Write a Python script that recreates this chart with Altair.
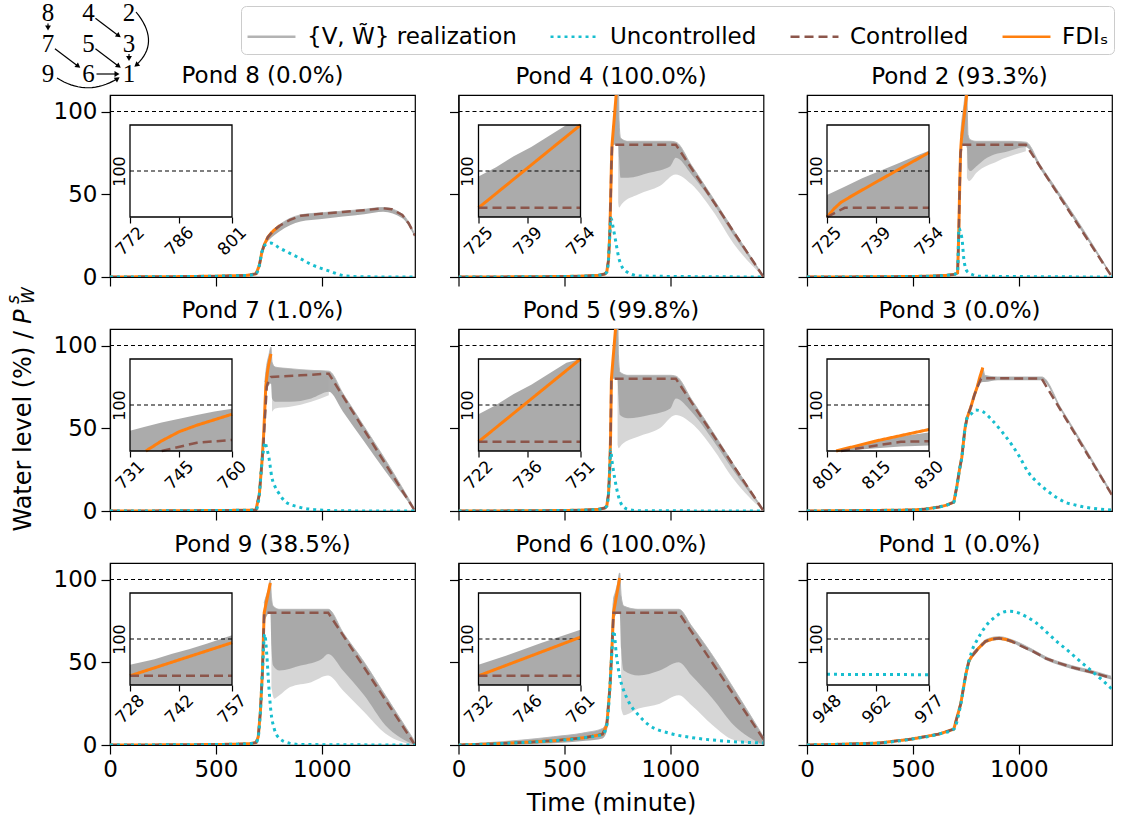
import math
import altair as alt
import pandas as pd

# ---------------- series / legend ----------------
SERIES = ["{V, W\u0303} realization", "Uncontrolled", "Controlled", "FDI\u209b"]
COLORS = ["#b3b3b3", "#17becf", "#8c564b", "#ff7f0e"]
DASHES = [[1, 0], [3, 4], [9, 5], [1, 0]]

PANEL_KEYS = ["8", "4", "2", "7", "5", "3", "9", "6", "1"]
PANEL_TITLES = ["Pond 8 (0.0%)", "Pond 4 (100.0%)", "Pond 2 (93.3%)",
                "Pond 7 (1.0%)", "Pond 5 (99.8%)", "Pond 3 (0.0%)",
                "Pond 9 (38.5%)", "Pond 6 (100.0%)", "Pond 1 (0.0%)"]
X_TICKS = [0, 500, 1000]
Y_TICKS = [0, 50, 100]
X_DOMAIN = [0, 1440]
Y_DOMAIN = [0, 110]
INSET_Y = [75, 125]

# ---------------- Pond 8 ----------------
P8_WIN = [772, 786, 801]
P8_T_UNC = [0, 300, 500, 650, 690, 705, 717, 730, 745, 760, 800, 850, 892, 950, 1033, 1113, 1200, 1440]
P8_V_UNC = [0, 0.2, 0.5, 1, 2, 7, 15, 19, 20.3, 20.5, 17.5, 14.3, 11.6, 7.6, 3.7, 0.6, 0.1, 0]
P8_T_CTL = [0, 300, 500, 650, 690, 705, 717, 730, 745, 764, 772, 801, 850, 900, 1000, 1100, 1200, 1290, 1330, 1380, 1410, 1440]
P8_V_CTL = [0, 0.2, 0.5, 1, 2, 7, 15, 20, 24, 27, 28, 31, 34.5, 37, 38.3, 39.3, 40.4, 41.5, 41, 37.5, 32.5, 25]
P8_T_FDI = [0, 300, 500, 650, 690, 705, 717, 730, 745, 764, 772, 801]
P8_V_FDI = [0, 0.2, 0.5, 1, 2, 7, 15, 20, 24, 27, 28, 31]
P8_T_BAND = [730, 764, 800, 900, 1000, 1100, 1200, 1290, 1380, 1440]
P8_LO_BAND = [19.5, 24, 27.5, 33.5, 35, 36.5, 38, 39.5, 35.5, 24]
P8_HI_BAND = [20.5, 27.5, 31.5, 37.5, 38.8, 39.8, 40.9, 42, 38, 25.5]

# ---------------- Pond 4 ----------------
P4_WIN = [725, 739, 754]
P4_T_UNC = [0, 300, 500, 600, 660, 690, 700, 708, 714, 720, 730, 742, 757, 775, 790, 820, 851, 1440]
P4_V_UNC = [0, 0.1, 0.3, 0.6, 1, 1.8, 3, 10, 25, 35.5, 30, 21.7, 11.4, 5.5, 3.6, 1.5, 0.6, 0]
P4_T_CTL = [0, 300, 500, 600, 660, 690, 700, 708, 714, 718, 722, 725, 754, 1026, 1440]
P4_V_CTL = [0, 0.1, 0.3, 0.6, 1, 1.8, 3, 10, 25, 45, 68, 80, 80, 80, 0]
P4_T_FDI = [0, 300, 500, 600, 660, 690, 700, 708, 714, 718, 722, 725, 754]
P4_V_FDI = [0, 0.1, 0.3, 0.6, 1, 1.8, 3, 10, 25, 45, 68, 80, 125]
P4_T_BAND = [725, 735, 745, 754, 758, 765, 800, 900, 1000, 1026, 1100, 1200, 1300, 1440]
P4_LO_BAND = [79, 80, 80, 80, 72, 60, 60, 63, 67, 72, 62, 45, 25, 0]
P4_HI_BAND = [82, 97, 112, 125, 95, 84, 82, 82, 82, 81.5, 67.5, 48, 28, 0.5]
P4_T_FRINGE = [754, 758, 770, 850, 950, 1026, 1100, 1200, 1300, 1440]
P4_LO_FRINGE = [45, 42, 44, 50, 55, 62, 56, 40, 20, 0]
P4_HI_FRINGE = [80, 80, 80, 80, 80, 80, 66, 47, 27, 0.5]
P4_T_INSET = [725, 730, 735, 740, 745, 750, 754]
P4_LO_INSET = [75, 75, 75, 75, 75, 75, 75]
P4_HI_INSET = [97, 102, 108, 113, 119, 125, 130]

# ---------------- Pond 2 ----------------
P2_WIN = [725, 739, 754]
P2_T_UNC = [0, 300, 500, 600, 660, 690, 700, 711, 714, 717, 725, 733, 740, 755, 780, 811, 1440]
P2_V_UNC = [0, 0.1, 0.3, 0.6, 1, 1.5, 1.8, 2.5, 15, 29.5, 27, 21.7, 11.4, 3.6, 1.5, 0.5, 0]
P2_T_CTL = [0, 300, 500, 600, 660, 690, 700, 711, 714, 717, 721, 725, 730, 754, 1033, 1440]
P2_V_CTL = [0, 0.1, 0.3, 0.6, 1, 1.5, 1.8, 2.5, 15, 29.5, 55, 75, 80, 80, 80, 0]
P2_T_FDI = [0, 300, 500, 600, 660, 690, 700, 711, 714, 717, 721, 725, 727, 729, 733, 739, 746, 754]
P2_V_FDI = [0, 0.1, 0.3, 0.6, 1, 1.5, 1.8, 2.5, 15, 29.5, 55, 75, 79.5, 83, 87.5, 94, 101.5, 110]
P2_T_BAND = [725, 730, 740, 748, 755, 760, 770, 800, 850, 950, 1033, 1100, 1200, 1300, 1440]
P2_LO_BAND = [75, 78, 80, 80, 78, 66, 64, 67, 72, 76, 78.5, 65.5, 46.5, 27, 0]
P2_HI_BAND = [85, 93, 103, 110, 108, 86, 83, 82, 82, 82, 81.5, 68, 49, 29.5, 0.5]
P2_T_FRINGE = [755, 765, 800, 900, 1033]
P2_LO_FRINGE = [60, 58, 63, 70, 76]
P2_HI_FRINGE = [80, 80, 80, 80, 80]
P2_T_INSET = [725, 730, 735, 740, 745, 750, 754]
P2_LO_INSET = [75, 75, 75, 75, 75, 75, 75]
P2_HI_INSET = [87, 91.5, 96, 100, 104, 108, 111]

# ---------------- Pond 7 ----------------
P7_WIN = [731, 745, 760]
P7_T_UNC = [0, 300, 500, 600, 660, 689, 705, 717, 725, 731, 740, 750, 764, 780, 797, 830, 892, 986, 1100, 1440]
P7_V_UNC = [0, 0.1, 0.3, 0.4, 0.5, 0.6, 10, 29, 37, 41.6, 38, 32.5, 20.5, 14.5, 10.8, 5.4, 2.4, 0.6, 0.1, 0]
P7_T_CTL = [0, 300, 500, 600, 660, 689, 705, 717, 725, 731, 740, 750, 760, 900, 1033, 1440]
P7_V_CTL = [0, 0.1, 0.3, 0.4, 0.5, 0.6, 10, 29, 42, 55, 75, 79.5, 81, 82, 83, 0]
P7_T_FDI = [0, 300, 500, 600, 660, 689, 705, 717, 725, 731, 735.5, 740, 745, 750, 755, 760]
P7_V_FDI = [0, 0.1, 0.3, 0.4, 0.5, 0.6, 10, 29, 45, 62, 75, 80.5, 85.5, 89, 92, 95]
P7_T_BAND = [731, 740, 750, 760, 765, 780, 850, 950, 1033, 1100, 1200, 1300, 1440]
P7_LO_BAND = [58, 74, 76, 77, 68, 66, 66, 68, 72, 60, 42, 24, 0]
P7_HI_BAND = [78, 88, 94, 99, 90, 87, 86, 85, 84.5, 71, 51, 31, 1]
P7_T_FRINGE = [765, 780, 850, 950, 1033]
P7_LO_FRINGE = [60, 62, 63, 66, 70]
P7_HI_FRINGE = [82, 82, 82, 82, 82]
P7_T_INSET = [731, 735, 740, 745, 750, 755, 760]
P7_LO_INSET = [75, 75, 75, 75, 75, 75, 75]
P7_HI_INSET = [86, 88, 90.5, 92.5, 94.5, 96.5, 98]

# ---------------- Pond 5 ----------------
P5_WIN = [722, 736, 751]
P5_T_UNC = [0, 300, 500, 600, 660, 690, 700, 708, 714, 718, 725, 740, 755, 775, 800, 850, 1440]
P5_V_UNC = [0, 0.1, 0.3, 0.6, 1, 1.8, 3, 10, 25, 37, 30, 18, 9, 3, 1, 0.2, 0]
P5_T_CTL = [0, 300, 500, 600, 660, 690, 700, 708, 714, 718, 721, 722, 751, 1026, 1440]
P5_V_CTL = [0, 0.1, 0.3, 0.6, 1, 1.8, 3, 10, 25, 45, 72, 80, 80, 80, 0]
P5_T_FDI = [0, 300, 500, 600, 660, 690, 700, 708, 714, 718, 721, 722, 751]
P5_V_FDI = [0, 0.1, 0.3, 0.6, 1, 1.8, 3, 10, 25, 45, 72, 80, 125]
P5_T_BAND = [722, 732, 742, 751, 755, 762, 800, 900, 1000, 1026, 1100, 1200, 1300, 1440]
P5_LO_BAND = [79, 80, 80, 80, 70, 58, 56, 58, 62, 68, 60, 43, 24, 0]
P5_HI_BAND = [82, 97, 112, 125, 95, 84, 82, 82, 82, 81.5, 67.5, 48, 28, 0.5]
P5_T_FRINGE = [751, 756, 770, 850, 950, 1026, 1100, 1200, 1300, 1440]
P5_LO_FRINGE = [40, 38, 40, 45, 50, 58, 53, 38, 19, 0]
P5_HI_FRINGE = [80, 80, 80, 80, 80, 80, 66, 47, 27, 0.5]
P5_T_INSET = [722, 727, 732, 737, 742, 747, 751]
P5_LO_INSET = [75, 75, 75, 75, 75, 75, 75]
P5_HI_INSET = [95, 100, 106, 111, 117, 123, 128]

# ---------------- Pond 3 ----------------
P3_WIN = [801, 815, 830]
P3_T_UNC = [0, 300, 500, 560, 623, 660, 693, 707, 720, 731, 745, 755, 778, 797, 830, 873, 920, 967, 1000,
            1047, 1090, 1127, 1180, 1221, 1270, 1316, 1380, 1440]
P3_V_UNC = [0, 0.3, 0.6, 1.2, 2.4, 3.6, 5.4, 14.5, 25, 32.5, 49, 56, 59, 61, 60, 55, 48, 40, 33.5,
            23, 17, 13, 8, 5.2, 3.5, 2.2, 1.2, 0.6]
P3_T_CTL = [0, 300, 500, 560, 623, 660, 693, 707, 720, 731, 745, 755, 773, 790, 805, 815, 822, 830, 1108, 1440]
P3_V_CTL = [0, 0.3, 0.6, 1.2, 2.4, 3.6, 5.4, 14.5, 25, 32.5, 49, 56, 62.6, 70, 75, 78, 80, 80.3, 80, 9.6]
P3_T_FDI = [0, 300, 500, 560, 623, 660, 693, 707, 720, 731, 745, 755, 773, 790, 801, 803.6, 815, 830]
P3_V_FDI = [0, 0.3, 0.6, 1.2, 2.4, 3.6, 5.4, 14.5, 25, 32.5, 49, 56, 62.6, 70, 74, 75, 80.5, 86.7]
P3_T_BAND = [790, 805, 815, 830, 840, 900, 1000, 1108, 1200, 1300, 1440]
P3_LO_BAND = [69, 74, 77, 78, 78, 79, 79, 79, 60.5, 39, 8.8]
P3_HI_BAND = [71, 76, 81, 86, 82, 81, 81, 81, 62, 41, 10.5]
P3_T_INSET = [805, 815, 822, 830]
P3_LO_INSET = [75, 76.5, 77.5, 78]
P3_HI_INSET = [76, 80.5, 83, 85]

# ---------------- Pond 9 ----------------
P9_WIN = [728, 742, 757]
P9_T_UNC = [0, 300, 500, 600, 660, 690, 700, 710, 720, 730, 740, 750, 760, 775, 800, 850, 900, 1440]
P9_V_UNC = [0, 0.1, 0.3, 0.5, 0.8, 1.5, 5, 20, 45, 67, 55, 35, 20, 10, 4, 1, 0.3, 0]
P9_T_CTL = [0, 300, 500, 600, 660, 690, 700, 710, 720, 725, 728, 757, 1030, 1440]
P9_V_CTL = [0, 0.1, 0.3, 0.5, 0.8, 1.5, 5, 20, 45, 68, 80, 80, 80, 0]
P9_T_FDI = [0, 300, 500, 600, 660, 690, 700, 710, 720, 725, 728, 757]
P9_V_FDI = [0, 0.1, 0.3, 0.5, 0.8, 1.5, 5, 20, 45, 68, 80, 98]
P9_T_BAND = [728, 740, 750, 757, 762, 770, 800, 900, 1000, 1030, 1100, 1200, 1300, 1440]
P9_LO_BAND = [75, 78, 80, 80, 60, 48, 45, 48, 52, 55, 45, 30, 12, 0]
P9_HI_BAND = [86, 91, 95, 100, 90, 84, 82, 82, 82, 82, 68, 50, 30, 2]
P9_T_FRINGE = [762, 775, 800, 850, 950, 1030, 1100, 1200, 1300, 1440]
P9_LO_FRINGE = [35, 28, 30, 35, 38, 42, 33, 20, 7, 0]
P9_HI_FRINGE = [80, 80, 80, 80, 80, 80, 66, 48, 29, 1]
P9_T_INSET = [728, 735, 740, 745, 750, 757]
P9_LO_INSET = [75, 75, 75, 75, 75, 75]
P9_HI_INSET = [86, 89, 92, 94.5, 97.5, 102]

# ---------------- Pond 6 ----------------
P6_WIN = [732, 746, 761]
P6_T_UNC = [0, 150, 300, 450, 600, 680, 700, 715, 725, 733, 745, 760, 780, 800, 850, 900, 1000, 1100, 1200, 1300, 1440]
P6_V_UNC = [0, 0.6, 1.5, 2.6, 4.5, 6.5, 12, 35, 58, 69, 55, 42, 33, 27, 18, 12, 7, 4.5, 3, 2, 1.2]
P6_T_CTL = [0, 150, 300, 450, 600, 680, 700, 715, 725, 732, 761, 1040, 1440]
P6_V_CTL = [0, 0.6, 1.5, 2.6, 4.5, 6.5, 12, 35, 60, 80, 80, 80, 3.5]
P6_T_FDI = [0, 150, 300, 450, 600, 680, 700, 715, 725, 732, 761]
P6_V_FDI = [0, 0.6, 1.5, 2.6, 4.5, 6.5, 12, 35, 60, 80, 101]
P6_T_BAND = [0, 150, 300, 450, 600, 680, 700, 715, 732, 740, 750, 761, 768, 780, 850, 950, 1040, 1100, 1200, 1300, 1440]
P6_LO_BAND = [0, 0.2, 0.5, 1, 2.5, 4, 8, 30, 75, 78, 80, 80, 58, 45, 42, 45, 50, 42, 28, 12, 0]
P6_HI_BAND = [0.3, 1.5, 3, 5, 7.5, 10, 15, 40, 88, 92, 97, 104, 90, 84, 82, 82, 82, 72, 54, 34, 5]
P6_T_FRINGE = [768, 780, 850, 950, 1040, 1100, 1200, 1300, 1440]
P6_LO_FRINGE = [22, 18, 22, 25, 30, 24, 12, 3, 0]
P6_HI_FRINGE = [80, 80, 80, 80, 80, 70, 52, 32, 4]
P6_T_INSET = [732, 740, 750, 761]
P6_LO_INSET = [75, 75, 75, 75]
P6_HI_INSET = [86, 91, 98, 105]

# ---------------- Pond 1 ----------------
P1_WIN = [948, 962, 977]
P1_T_UNC = [0, 150, 340, 495, 623, 693, 726, 750, 778, 810, 843, 880, 920, 948, 977, 1033, 1080, 1127,
            1180, 1236, 1290, 1345, 1400, 1440]
P1_V_UNC = [0, 0.4, 1.2, 3.6, 6.6, 9.6, 24.7, 42.8, 56.6, 65, 71.7, 76.5, 80, 80.8, 80.6, 77.7, 74, 68.7,
            62.5, 56.6, 50.5, 44.6, 38.5, 33.7]
P1_T_CTL = [0, 150, 340, 495, 623, 693, 726, 750, 764, 778, 810, 843, 875, 906, 940, 967, 1000, 1061,
            1127, 1190, 1250, 1350, 1440]
P1_V_CTL = [0, 0.4, 1.2, 3.6, 6.6, 9.6, 25, 42.8, 50.6, 53.6, 58.5, 62.6, 64, 64.5, 63.8, 62.6, 60.5, 57,
            52.4, 49.5, 47, 43.8, 40.4]
P1_T_FDI = [0, 150, 340, 495, 623, 693, 726, 750, 764, 778, 810, 843, 875, 906, 940, 967, 977]
P1_V_FDI = [0, 0.4, 1.2, 3.6, 6.6, 9.6, 25, 42.8, 50.6, 53.6, 58.5, 62.6, 64, 64.5, 63.8, 62.6, 62]
P1_T_BAND = [750, 778, 810, 843, 906, 967, 1061, 1127, 1250, 1350, 1440]
P1_LO_BAND = [42, 52.5, 57.5, 61.6, 63.5, 61.6, 56, 51.4, 46, 42.8, 39.4]
P1_HI_BAND = [43.5, 54.5, 59.5, 63.6, 65.5, 63.6, 58, 53.4, 48, 44.8, 41.4]

# ---------------- network diagram ----------------
NET_LABELS = ["8", "4", "2", "7", "5", "3", "9", "6", "1"]
NET_COL = [0, 1, 2, 0, 1, 2, 0, 1, 2]
NET_ROW = [0, 0, 0, 1, 1, 1, 2, 2, 2]
NET_EDGES = [["8", "7"], ["4", "3"], ["7", "6"], ["5", "1"], ["3", "1"], ["6", "1"]]
NET_CURVES = [["2", "1"], ["9", "1"]]

PONDS = {
    "8": dict(unc=(P8_T_UNC, P8_V_UNC), ctl=(P8_T_CTL, P8_V_CTL), fdi=(P8_T_FDI, P8_V_FDI),
              band=(P8_T_BAND, P8_LO_BAND, P8_HI_BAND), fringe=None, inset=None, win=P8_WIN),
    "4": dict(unc=(P4_T_UNC, P4_V_UNC), ctl=(P4_T_CTL, P4_V_CTL), fdi=(P4_T_FDI, P4_V_FDI),
              band=(P4_T_BAND, P4_LO_BAND, P4_HI_BAND), fringe=(P4_T_FRINGE, P4_LO_FRINGE, P4_HI_FRINGE),
              inset=(P4_T_INSET, P4_LO_INSET, P4_HI_INSET), win=P4_WIN),
    "2": dict(unc=(P2_T_UNC, P2_V_UNC), ctl=(P2_T_CTL, P2_V_CTL), fdi=(P2_T_FDI, P2_V_FDI),
              band=(P2_T_BAND, P2_LO_BAND, P2_HI_BAND), fringe=(P2_T_FRINGE, P2_LO_FRINGE, P2_HI_FRINGE),
              inset=(P2_T_INSET, P2_LO_INSET, P2_HI_INSET), win=P2_WIN),
    "7": dict(unc=(P7_T_UNC, P7_V_UNC), ctl=(P7_T_CTL, P7_V_CTL), fdi=(P7_T_FDI, P7_V_FDI),
              band=(P7_T_BAND, P7_LO_BAND, P7_HI_BAND), fringe=(P7_T_FRINGE, P7_LO_FRINGE, P7_HI_FRINGE),
              inset=(P7_T_INSET, P7_LO_INSET, P7_HI_INSET), win=P7_WIN),
    "5": dict(unc=(P5_T_UNC, P5_V_UNC), ctl=(P5_T_CTL, P5_V_CTL), fdi=(P5_T_FDI, P5_V_FDI),
              band=(P5_T_BAND, P5_LO_BAND, P5_HI_BAND), fringe=(P5_T_FRINGE, P5_LO_FRINGE, P5_HI_FRINGE),
              inset=(P5_T_INSET, P5_LO_INSET, P5_HI_INSET), win=P5_WIN),
    "3": dict(unc=(P3_T_UNC, P3_V_UNC), ctl=(P3_T_CTL, P3_V_CTL), fdi=(P3_T_FDI, P3_V_FDI),
              band=(P3_T_BAND, P3_LO_BAND, P3_HI_BAND), fringe=None,
              inset=(P3_T_INSET, P3_LO_INSET, P3_HI_INSET), win=P3_WIN),
    "9": dict(unc=(P9_T_UNC, P9_V_UNC), ctl=(P9_T_CTL, P9_V_CTL), fdi=(P9_T_FDI, P9_V_FDI),
              band=(P9_T_BAND, P9_LO_BAND, P9_HI_BAND), fringe=(P9_T_FRINGE, P9_LO_FRINGE, P9_HI_FRINGE),
              inset=(P9_T_INSET, P9_LO_INSET, P9_HI_INSET), win=P9_WIN),
    "6": dict(unc=(P6_T_UNC, P6_V_UNC), ctl=(P6_T_CTL, P6_V_CTL), fdi=(P6_T_FDI, P6_V_FDI),
              band=(P6_T_BAND, P6_LO_BAND, P6_HI_BAND), fringe=(P6_T_FRINGE, P6_LO_FRINGE, P6_HI_FRINGE),
              inset=(P6_T_INSET, P6_LO_INSET, P6_HI_INSET), win=P6_WIN),
    "1": dict(unc=(P1_T_UNC, P1_V_UNC), ctl=(P1_T_CTL, P1_V_CTL), fdi=(P1_T_FDI, P1_V_FDI),
              band=(P1_T_BAND, P1_LO_BAND, P1_HI_BAND), fringe=None, inset=None, win=P1_WIN),
}

# ---------------- styling ----------------
FONT = "DejaVu Sans"
GRAY_DENSE = "#a6a6a6"
GRAY_LIGHT = "#d2d2d2"
PANEL_W, PANEL_H = 305, 182
INSET_XR = [20, 122]
INSET_YR = [122, 30]
TITLE_DY = {0: 93, 3: 42}

LEG = alt.Legend(title=None, orient="none", legendX=131, legendY=-89, direction="horizontal",
                 columns=4, symbolType="stroke", symbolSize=2300, symbolStrokeWidth=2.5,
                 labelFontSize=23, labelFont=FONT, labelColor="black", labelOffset=10,
                 columnPadding=28, padding=5, strokeColor="#cccccc", fillColor="white",
                 cornerRadius=5, labelLimit=500)
STROKE = alt.Stroke("series:N", scale=alt.Scale(domain=SERIES, range=COLORS), legend=LEG)
DASH = alt.StrokeDash("series:N", scale=alt.Scale(domain=SERIES, range=DASHES), legend=LEG)

SERIES_STYLE = {"fdi": (SERIES[3], 3, "linear"), "ctl": (SERIES[2], 2.5, "linear"),
                "unc": (SERIES[1], 3, "monotone")}


def line_df(t, v, name):
    return pd.DataFrame({"t": t, "v": v, "series": name})


def band_df(t, lo, hi):
    return pd.DataFrame({"t": t, "lo": lo, "hi": hi})


def network_layer():
    NX0, NSX, NY0, NSY = -62.0, 40.5, -82.0, 30.5
    pos = {lab: (NX0 + NSX * c, NY0 + NSY * r) for lab, c, r in zip(NET_LABELS, NET_COL, NET_ROW)}

    def to_data(px, py):
        return (px - NX0) / NSX, (py - NY0) / NSY

    segs, heads, curves = [], [], []
    for a, b in NET_EDGES:
        (x0, y0), (x1, y1) = pos[a], pos[b]
        dx, dy = x1 - x0, y1 - y0
        L = math.hypot(dx, dy)
        ux, uy = dx / L, dy / L
        s0 = 1 / math.sqrt((ux / 8) ** 2 + (uy / 10.5) ** 2)
        s1 = 1 / math.sqrt((ux / 8) ** 2 + (uy / 11.5) ** 2) + 1
        sx, sy = x0 + ux * s0, y0 + uy * s0
        tx, ty = x1 - ux * s1, y1 - uy * s1
        ex, ey = tx - ux * 4, ty - uy * 4
        hx, hy = tx - ux * 3, ty - uy * 3
        d0, d1 = to_data(sx, sy), to_data(ex, ey)
        segs.append({"x": d0[0], "y": d0[1], "x2": d1[0], "y2": d1[1]})
        hd = to_data(hx, hy)
        heads.append({"x": hd[0], "y": hd[1], "ang": math.degrees(math.atan2(ux, -uy)) % 360})
    curve_geo = {("2", "1"): ((7, -1), (5, -7), (33, 0)), ("9", "1"): ((9, 4), (-9, 3), (0, 24))}
    for k, (a, b) in enumerate(NET_CURVES):
        (x0, y0), (x1, y1) = pos[a], pos[b]
        so, eo, co = curve_geo[(a, b)]
        S = (x0 + so[0], y0 + so[1])
        E = (x1 + eo[0], y1 + eo[1])
        C = ((x0 + x1) / 2 + co[0], (y0 + y1) / 2 + co[1])
        dx, dy = E[0] - C[0], E[1] - C[1]
        L = math.hypot(dx, dy)
        ux, uy = dx / L, dy / L
        n = 18
        for j in range(n + 1):
            tt = j / n
            px = (1 - tt) ** 2 * S[0] + 2 * (1 - tt) * tt * C[0] + tt ** 2 * E[0]
            py = (1 - tt) ** 2 * S[1] + 2 * (1 - tt) * tt * C[1] + tt ** 2 * E[1]
            if j == n:
                px, py = E[0] - ux * 4, E[1] - uy * 4
            d = to_data(px, py)
            curves.append({"x": d[0], "y": d[1], "id": k, "o": j})
        hd = to_data(E[0] - ux * 3, E[1] - uy * 3)
        heads.append({"x": hd[0], "y": hd[1], "ang": math.degrees(math.atan2(ux, -uy)) % 360})

    nxs = alt.Scale(domain=[0, 2], range=[NX0, NX0 + 2 * NSX], nice=False, zero=False)
    nys = alt.Scale(domain=[0, 2], range=[NY0, NY0 + 2 * NSY], nice=False, zero=False)
    NX = alt.X("x:Q", scale=nxs, axis=None)
    NY = alt.Y("y:Q", scale=nys, axis=None)
    nodes = pd.DataFrame({"label": NET_LABELS, "x": NET_COL, "y": NET_ROW})
    l1 = alt.Chart(pd.DataFrame(segs)).mark_rule(color="black", strokeWidth=1.2).encode(
        x=NX, y=NY, x2="x2:Q", y2="y2:Q")
    l2 = alt.Chart(pd.DataFrame(curves)).mark_line(color="black", strokeWidth=1.2).encode(
        x=NX, y=NY, detail="id:N", order="o:Q")
    l3 = alt.Chart(pd.DataFrame(heads)).mark_point(shape="triangle-up", filled=True, size=34,
                                                   color="black", opacity=1).encode(
        x=NX, y=NY, angle=alt.Angle("ang:Q", scale=None))
    l4 = alt.Chart(nodes).mark_text(font="Liberation Serif", fontSize=25, color="black",
                                    align="center", baseline="middle").encode(x=NX, y=NY, text="label:N")
    return alt.layer(l1, l2, l3, l4)


def ytitle_layers():
    base = pd.DataFrame({"k": [0]})
    parts = [("Water level (%) /", -79, 2, 24, "normal", "right"),
             ("P", -79, -5, 24, "italic", "left"),
             ("s", -91, -25, 17, "italic", "left"),
             ("W", -76, -25, 17, "italic", "left")]
    out = []
    for txt, x, y, size, style, align in parts:
        out.append(alt.Chart(base).mark_text(text=txt, angle=270, align=align, baseline="alphabetic",
                                             fontSize=size, fontStyle=style, font=FONT, color="black")
                   .encode(x=alt.value(x), y=alt.value(y)))
    return out


def make_panel(i):
    key = PANEL_KEYS[i]
    row, col = divmod(i, 3)
    P = PONDS[key]

    xs = alt.Scale(domain=X_DOMAIN, nice=False, zero=False)
    ys = alt.Scale(domain=Y_DOMAIN, nice=False, zero=False)
    xax = alt.Axis(values=X_TICKS, labels=(row == 2), format="d", tickSize=9, labelFontSize=23,
                   labelPadding=4, titleFontSize=24, titleFontWeight="normal", titlePadding=10,
                   titleColor="black", titleFont=FONT)
    yax = alt.Axis(values=Y_TICKS, labels=(col == 0), format="d", tickSize=9, labelFontSize=23, labelPadding=4)
    xtitle = "Time (minute)" if (row == 2 and col == 1) else None
    X = alt.X("t:Q", scale=xs, axis=xax, title=xtitle)
    Y = alt.Y("v:Q", scale=ys, axis=yax, title=None)
    YLO = alt.Y("lo:Q", scale=ys, axis=yax, title=None)

    main = [alt.Chart(pd.DataFrame({"t": [0], "v": [100]})).mark_rule(
        color="black", strokeDash=[4, 3], strokeWidth=1.1).encode(y=Y)]
    if P["fringe"] is not None:
        main.append(alt.Chart(band_df(*P["fringe"])).mark_area(
            clip=True, color=GRAY_LIGHT, opacity=0.9, interpolate="monotone").encode(x=X, y=YLO, y2="hi:Q"))
    bt, blo, bhi = P["band"]
    main.append(alt.Chart(band_df(bt, blo, bhi)).mark_area(
        clip=True, color=GRAY_DENSE, opacity=0.95, interpolate="monotone").encode(x=X, y=YLO, y2="hi:Q"))
    main.append(alt.Chart(line_df(bt, bhi, SERIES[0])).mark_line(
        clip=True, strokeWidth=1, interpolate="monotone").encode(x=X, y=Y, stroke=STROKE, strokeDash=DASH))
    for k in ["fdi", "ctl", "unc"]:
        name, w, interp = SERIES_STYLE[k]
        t, v = P[k]
        main.append(alt.Chart(line_df(t, v, name)).mark_line(
            clip=True, strokeWidth=w, interpolate=interp).encode(x=X, y=Y, stroke=STROKE, strokeDash=DASH))
    if i == 3:
        main.extend(ytitle_layers())
    main_layer = alt.layer(*main)

    # ---- inset ----
    a, m, b = P["win"]
    xis = alt.Scale(domain=[a, b], range=INSET_XR, nice=False, zero=False)
    yis = alt.Scale(domain=INSET_Y, range=INSET_YR, nice=False, zero=False, clamp=True)
    xiax = alt.Axis(orient="bottom", offset=-(PANEL_H - INSET_YR[0]), values=[a, m, b], format="d",
                    labelAngle=315, labelAlign="center", labelBaseline="middle", labelPadding=18,
                    labelFontSize=17, tickSize=6, domain=False)
    yiax = alt.Axis(orient="left", offset=-INSET_XR[0], values=[100], format="d", labelAngle=270,
                    labelAlign="center", labelBaseline="bottom", labelPadding=3, labelFontSize=16,
                    ticks=False, domain=False)
    XI = alt.X("t:Q", scale=xis, axis=xiax, title=None)
    YI = alt.Y("v:Q", scale=yis, axis=yiax, title=None)
    YILO = alt.Y("lo:Q", scale=yis, axis=yiax, title=None)
    frame = pd.DataFrame({"t": [a], "t2": [b], "v": [INSET_Y[0]], "v2": [INSET_Y[1]]})
    inset = [alt.Chart(frame).mark_rect(fill="white").encode(x=XI, x2="t2:Q", y=YI, y2="v2:Q")]
    if P["inset"] is not None:
        inset.append(alt.Chart(band_df(*P["inset"])).mark_area(color=GRAY_DENSE, opacity=0.95).encode(
            x=XI, y=YILO, y2="hi:Q"))
    inset.append(alt.Chart(pd.DataFrame({"t": [a], "t2": [b], "v": [100]})).mark_rule(
        color="black", strokeDash=[4, 3], strokeWidth=1.1).encode(x=XI, x2="t2:Q", y=YI))
    for k in ["fdi", "ctl", "unc"]:
        name, w, interp = SERIES_STYLE[k]
        t, v = P[k]
        df = line_df(t, v, name)
        df = df[(df.t >= a) & (df.t <= b) & (df.v >= INSET_Y[0] - 0.1)]
        if len(df) >= 2:
            inset.append(alt.Chart(df).mark_line(strokeWidth=w).encode(
                x=XI, y=YI, stroke=STROKE, strokeDash=DASH))
    inset.append(alt.Chart(frame).mark_rect(fillOpacity=0, stroke="black", strokeWidth=1.3).encode(
        x=XI, x2="t2:Q", y=YI, y2="v2:Q"))
    inset_layer = alt.layer(*inset)

    layers = [main_layer, inset_layer]
    if i == 0:
        layers.append(network_layer())
    tkw = dict(text=PANEL_TITLES[i], fontSize=23, fontWeight="normal", frame="group", anchor="middle",
               offset=6, font=FONT, color="black")
    if i in TITLE_DY:
        tkw["dy"] = TITLE_DY[i]
    return alt.layer(*layers).resolve_scale(x="independent", y="independent").properties(
        width=PANEL_W, height=PANEL_H, title=alt.TitleParams(**tkw))


panels = [make_panel(i) for i in range(9)]

chart = alt.concat(*panels, columns=3, spacing={"row": 52, "column": 43.5}, bounds="flush").properties(
    padding={"left": 4, "top": 0, "right": 4, "bottom": 4}
).configure(font=FONT).configure_view(stroke="black", strokeWidth=1.2).configure_axis(
    grid=False, domainColor="black", domainWidth=1.2, tickColor="black", tickWidth=1.2,
    labelColor="black", labelFont=FONT, labelFlush=False, labelOverlap=False
).configure_title(font=FONT, color="black")

chart.save("out.html", embed_options={"renderer": "svg", "actions": False})
